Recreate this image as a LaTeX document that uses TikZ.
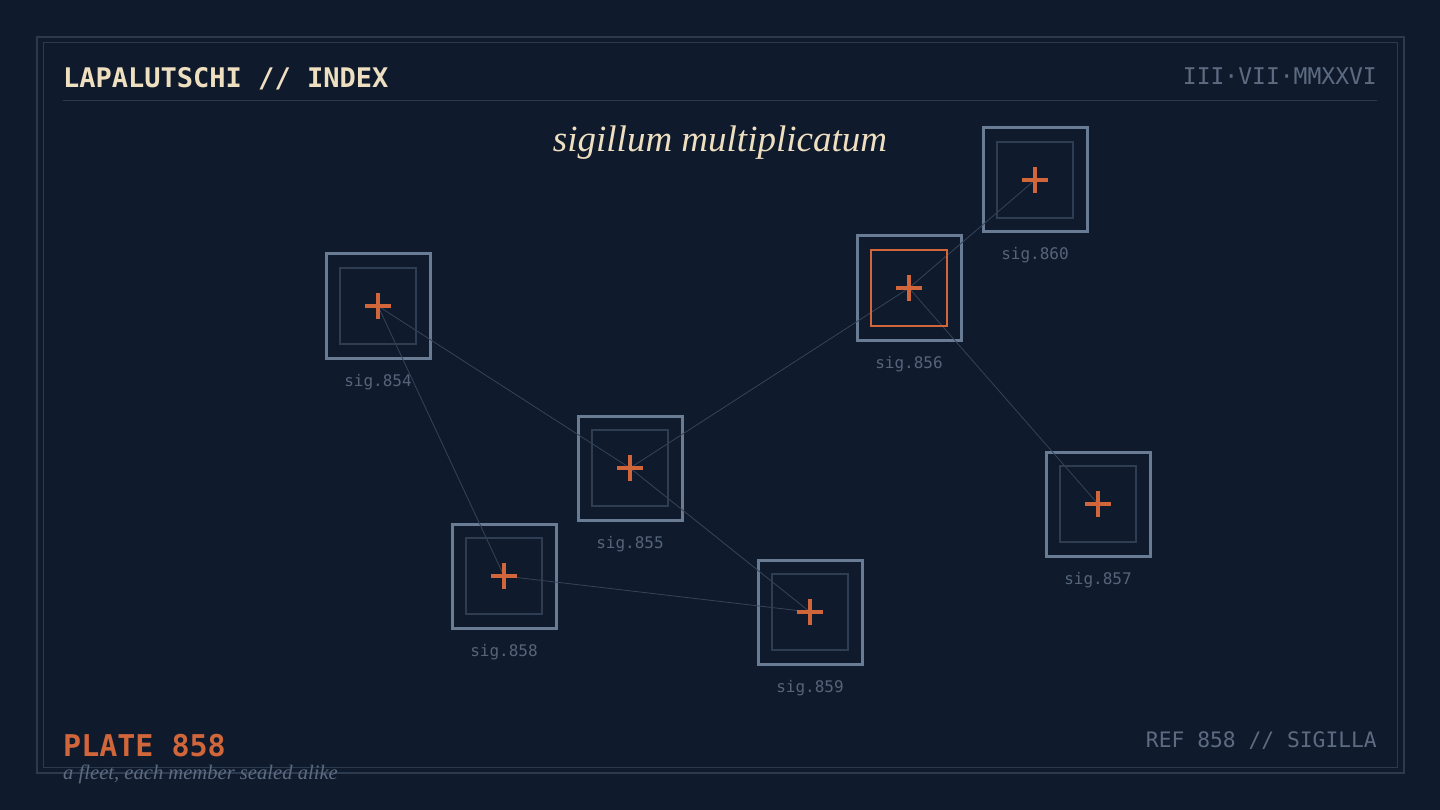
\documentclass[tikz,border=0pt]{standalone}
\usepackage{fontspec}
\setmainfont{Liberation Serif}
\setmonofont{DejaVu Sans Mono}
\definecolor{bg}{HTML}{0F1A2C}
\definecolor{framec}{HTML}{2C3A50}
\definecolor{boxc}{HTML}{6A7B94}
\definecolor{innerc}{HTML}{2F3D53}
\definecolor{orangec}{HTML}{D0663A}
\definecolor{edgec}{HTML}{364358}
\definecolor{labelc}{HTML}{56647A}
\definecolor{creamc}{HTML}{EEDFC0}
\definecolor{grayt}{HTML}{5D6B82}
\tikzset{
  sigbox/.style={draw=boxc, line width=3pt, minimum size=104pt, inner sep=0pt, outer sep=0pt},
  innerbox/.style={draw=innerc, line width=2pt},
  hotbox/.style={draw=orangec, line width=2.8pt},
  crossline/.style={draw=orangec, line width=3.4pt},
  link/.style={draw=edgec, line width=0.8pt},
  siglabel/.style={text=labelc, font=\ttfamily\fontsize{16}{18}\selectfont, anchor=base},
}
\begin{document}
\begin{tikzpicture}[x=1pt,y=-1pt]
\fill[bg] (0,0) rectangle (1440,810);
\useasboundingbox (0,0) rectangle (1440,810);
% frames
\draw[framec, line width=1.2pt] (37,37) rectangle (1404,773);
\draw[framec, line width=1pt] (43,43) rectangle (1397,767);
% header
\node[anchor=base west, text=creamc, font=\ttfamily\bfseries\fontsize{27}{30}\selectfont, inner sep=0pt] (title) at (63,88) {LAPALUTSCHI // INDEX};
\node[anchor=base east, text=grayt, font=\ttfamily\fontsize{23}{26}\selectfont, inner sep=0pt] (date) at (1377,85) {III·VII·MMXXVI};
\draw[framec, line width=1pt] (63,101) -- (1377,101);
\node[anchor=base, text=creamc, font=\itshape\fontsize{37}{40}\selectfont, inner sep=0pt] (sub) at (720,152) {sigillum multiplicatum};
% footer
\node[anchor=base west, text=orangec, font=\ttfamily\bfseries\fontsize{30}{32}\selectfont, inner sep=0pt] (plate) at (63,756) {PLATE 858};
\node[anchor=base west, text=grayt, font=\itshape\fontsize{20.6}{22}\selectfont, inner sep=0pt] (motto) at (63,779) {a fleet, each member sealed alike};
\node[anchor=base east, text=grayt, font=\ttfamily\fontsize{21.3}{24}\selectfont, inner sep=0pt] (ref) at (1377,747) {REF 858 // SIGILLA};
% nodes (outer boxes)
\foreach \n/\x/\y in {854/378/306, 855/630/468, 856/909/288, 857/1098/504, 858/504/576, 859/810/612, 860/1035/180}{
  \node[sigbox] (s\n) at (\x,\y) {};
}
% links
\foreach \a/\b in {854/855, 855/859, 855/856, 856/860, 856/857, 858/859, 854/858}{
  \draw[link] (s\a.center) -- (s\b.center);
}
% inner boxes, crosses, labels
\foreach \n/\x/\y in {854/378/306, 855/630/468, 857/1098/504, 858/504/576, 859/810/612, 860/1035/180}{
  \draw[innerbox] (\x-38,\y-38) rectangle (\x+38,\y+38);
}
\draw[hotbox] (909-38,288-38) rectangle (909+38,288+38);
\foreach \n/\x/\y in {854/378/306, 855/630/468, 856/909/288, 857/1098/504, 858/504/576, 859/810/612, 860/1035/180}{
  \draw[crossline] (\x-13,\y) -- (\x+13,\y);
  \draw[crossline] (\x,\y-13) -- (\x,\y+13);
  \node[siglabel] (l\n) at (\x,\y+80) {sig.\n};
}
\end{tikzpicture}
\end{document}
